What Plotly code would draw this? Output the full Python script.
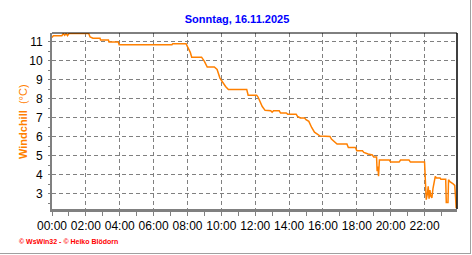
import plotly.graph_objects as go

DAY = "2025-11-16"
times = ["00:00","00:05","00:35","00:40","00:45","00:50","00:55","01:00","02:10","02:15",
         "02:25","02:50","02:52","03:20","03:22","03:55","03:58","07:05","07:08","07:55",
         "08:00","08:10","08:15","08:50","09:00","09:10","09:35","09:45","09:55","10:05",
         "10:15","10:25","11:30","11:35","12:05","12:10","12:15","12:25","12:35","12:55",
         "13:00","13:05","13:25","13:30","13:50","13:55","14:25","14:30","14:40","14:55",
         "15:00","15:10","15:20","15:30","15:50","16:25","16:30","16:40","16:50","17:25",
         "17:30","17:55","18:00","18:20","18:25","18:40","18:55","19:00","19:10","19:12",
         "19:15","19:17","19:20","19:55","20:00","20:30","20:35","21:05","21:10","22:00",
         "22:03","22:06","22:10","22:13","22:16","22:19","22:22","22:26","22:30","22:35",
         "22:38","22:42","22:55","22:58","23:15","23:17","23:23","23:25","23:30","23:40",
         "23:47","23:50","23:52"]
windchill = [11.23,11.33,11.33,11.44,11.35,11.44,11.33,11.44,11.44,11.26,
             11.2,11.2,11.1,11.1,11.0,11.0,10.85,10.85,10.91,10.91,
             10.75,10.45,10.2,10.2,9.98,9.68,9.68,9.55,9.1,8.87,
             8.66,8.5,8.5,8.2,8.2,8.1,7.9,7.6,7.4,7.38,
             7.3,7.38,7.38,7.26,7.26,7.2,7.2,7.08,7.0,7.0,
             6.91,6.82,6.5,6.25,6.05,6.03,5.89,5.77,5.63,5.63,
             5.45,5.45,5.28,5.28,5.19,5.1,5.05,4.95,4.95,4.2,
             4.45,3.93,4.79,4.79,4.68,4.68,4.79,4.79,4.68,4.68,
             2.95,2.7,3.0,3.4,2.75,3.2,2.9,2.8,3.3,3.65,
             3.93,3.84,3.84,3.77,3.77,2.55,2.55,3.75,3.65,3.55,
             3.45,2.8,2.25]
x_tick_labels = ["00:00","02:00","04:00","06:00","08:00","10:00","12:00",
                 "14:00","16:00","18:00","20:00","22:00"]
y_ticks = [3,4,5,6,7,8,9,10,11]
title_text = "Sonntag, 16.11.2025"
y_title = "<b>Windchill</b>  (°C)"
footer = "© WsWin32 - © Heiko Blödorn"

x_vals = [f"{DAY} {t}" for t in times]
x_tickvals = [f"{DAY} {t}" for t in x_tick_labels]

W, H = 472, 255
L, R, T, B = 52, 15, 33, 46
pw, ph = W - L - R, H - T - B

def px_x(px):
    return (px - L) / pw

def px_y(py):
    return (H - B - py) / ph

FONT = "Liberation Sans, Arial, sans-serif"
GRID = "#808080"

fig = go.Figure()
fig.add_trace(go.Scatter(x=x_vals, y=windchill, mode="lines",
                         line=dict(color="#FF8000", width=1.5),
                         hoverinfo="skip", showlegend=False))

fig.update_layout(
    width=W, height=H,
    margin=dict(l=L, r=R, t=T, b=B),
    paper_bgcolor="white", plot_bgcolor="white",
    font=dict(family=FONT, size=12, color="black"),
    title=dict(text=f"<b>{title_text}</b>", x=237 / W, xref="container",
               y=1 - 19 / H, yref="container", xanchor="center", yanchor="middle",
               font=dict(family=FONT, size=11, color="#0000FF")),
    xaxis=dict(range=[f"{DAY} 00:00", f"{DAY} 23:55"], type="date",
               tickvals=x_tickvals, ticktext=x_tick_labels,
               showgrid=True, gridcolor=GRID, griddash="4px,3px", gridwidth=1,
               showline=True, linecolor=GRID, linewidth=3,
               ticks="outside", ticklen=4, tickcolor=GRID, tickwidth=1,
               minor=dict(dtick=3600000, ticks="outside", ticklen=4, tickcolor=GRID,
                          showgrid=False),
               zeroline=False, tickfont=dict(size=12, family=FONT)),
    yaxis=dict(range=[2.21, 11.47], tickvals=y_ticks,
               showgrid=True, gridcolor=GRID, griddash="4px,3px", gridwidth=1,
               showline=True, linecolor=GRID, linewidth=2,
               ticks="outside", ticklen=2, tickcolor=GRID, tickwidth=1,
               ticklabelstandoff=3,
               minor=dict(dtick=0.5, ticks="outside", ticklen=2, tickcolor=GRID,
                          showgrid=False),
               zeroline=False, tickfont=dict(size=12, family=FONT)),
    annotations=[
        dict(text=y_title, x=px_x(22.5), y=px_y(121.5), xref="paper", yref="paper",
             textangle=-90, showarrow=False, xanchor="center", yanchor="middle",
             font=dict(family=FONT, size=11, color="#FF8000")),
        dict(text=f"<b>{footer}</b>", x=px_x(17), y=px_y(241.5), xref="paper", yref="paper",
             showarrow=False, xanchor="left", yanchor="middle",
             font=dict(family=FONT, size=7, color="#FF0000")),
    ],
    shapes=[
        dict(type="line", xref="paper", yref="paper", x0=0, x1=1, y0=1, y1=1,
             line=dict(color="black", width=1)),
        dict(type="line", xref="paper", yref="paper", x0=1, x1=1, y0=0, y1=1,
             line=dict(color="black", width=1.5)),
        dict(type="line", xref="paper", yref="paper", x0=px_x(470.5), x1=px_x(470.5),
             y0=px_y(0), y1=px_y(254), line=dict(color="#A0A0A0", width=1)),
        dict(type="line", xref="paper", yref="paper", x0=px_x(0), x1=px_x(471),
             y0=px_y(253.5), y1=px_y(253.5), line=dict(color="#A0A0A0", width=1)),
    ],
)

fig.write_html("out.html")
